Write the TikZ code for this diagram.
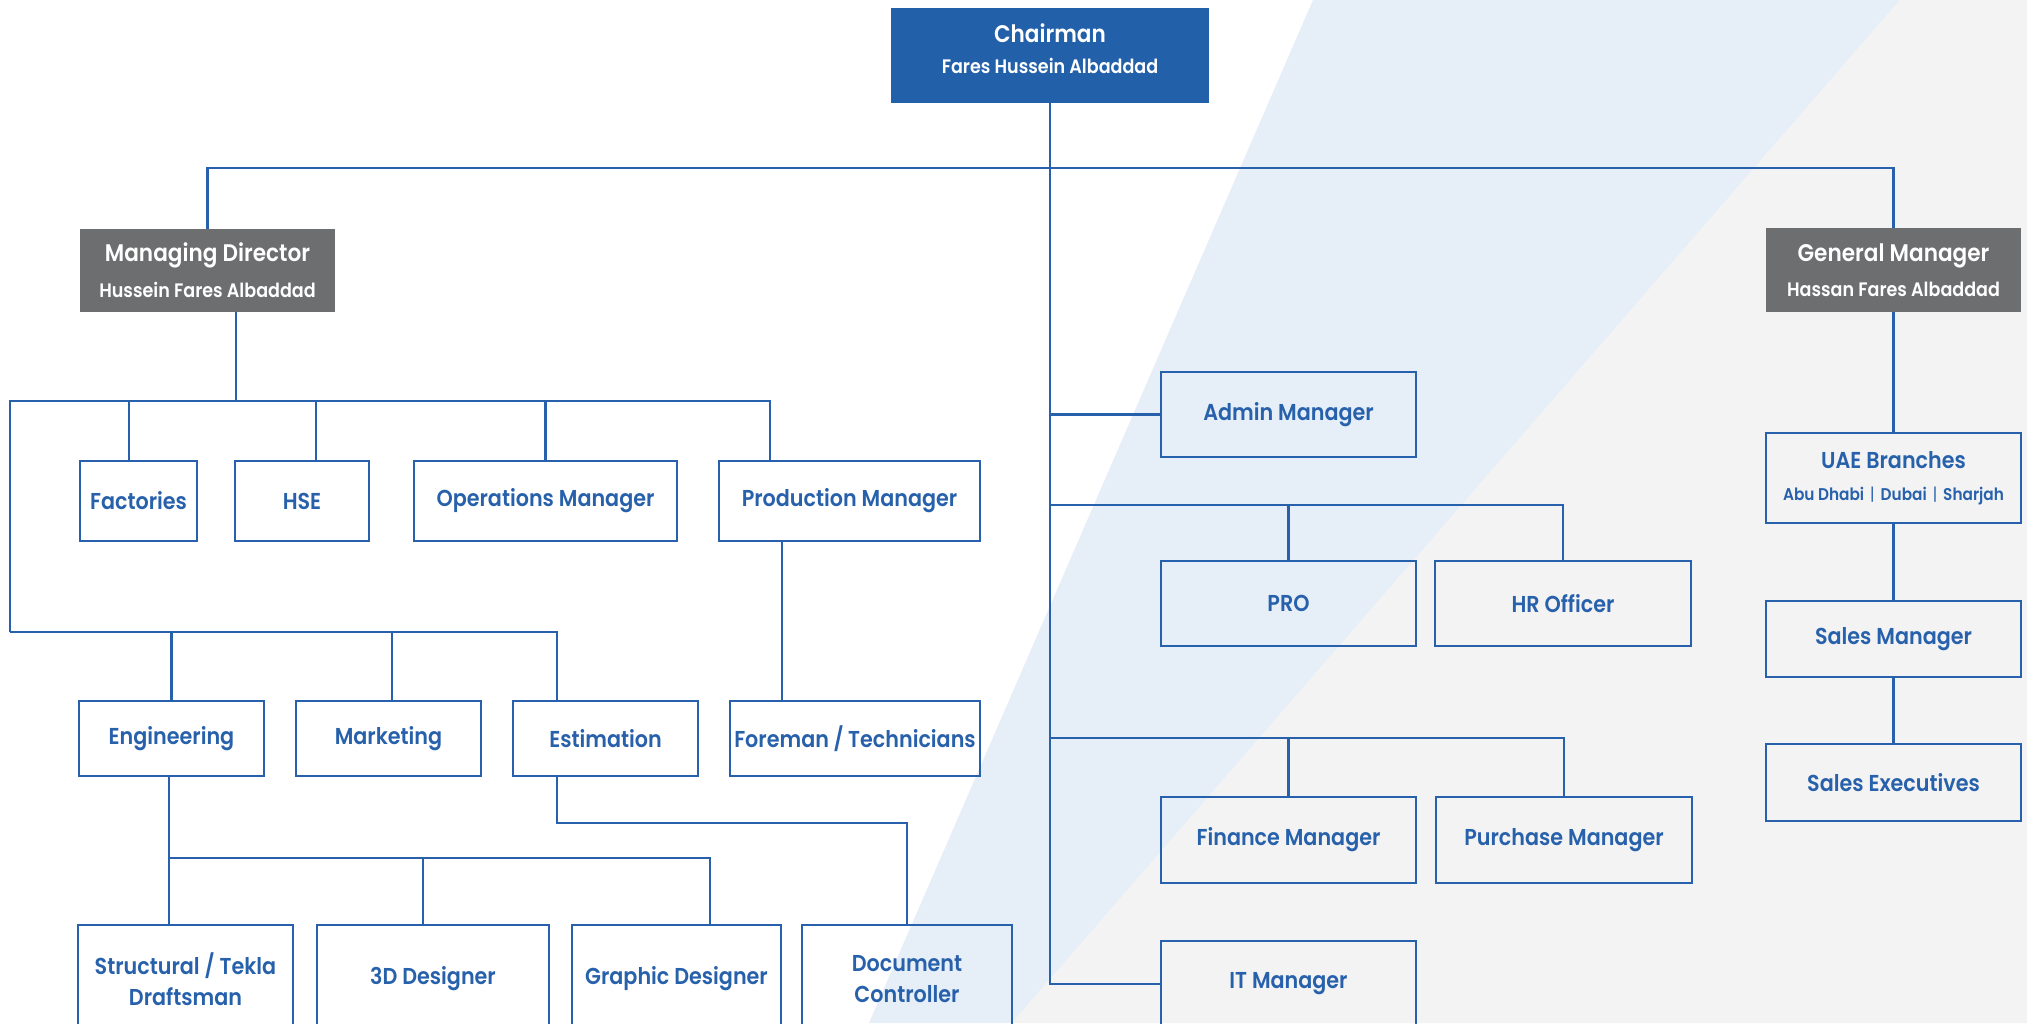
\documentclass[tikz,border=0pt]{standalone}
\usepackage{fontspec}
\setmainfont{Poppins}[FakeStretch=0.9, BoldFont={Poppins SemiBold}]
\definecolor{cblue}{RGB}{40,97,171}
\definecolor{cfill}{RGB}{35,96,170}
\definecolor{cgrey}{RGB}{109,110,112}
\definecolor{cband}{RGB}{230,238,247}
\definecolor{cbg}{RGB}{243,243,243}
\tikzset{
  lnk/.style={draw=cblue, line width=2.6pt},
  box/.style={draw=cblue, line width=2.6pt, fill=none, text=cblue, inner sep=0pt,
    font=\fontsize{23}{31}\selectfont\bfseries, align=center},
  dbox/.style={fill=cgrey, text=white, inner sep=0pt, align=center, font=\bfseries},
  bbox/.style={fill=cfill, text=white, inner sep=0pt, align=center, font=\bfseries},
}
\begin{document}
\begin{tikzpicture}[x=1pt,y=-1pt]
\useasboundingbox (0,0) rectangle (2027,1023);
\clip (0,0) rectangle (2027,1023);
% background
\fill[white] (0,0) rectangle (2027,1023);
\fill[cband] (1313,0) -- (1900,0) -- (1012,1023) -- (869,1023) -- cycle;
\fill[cbg] (1900,0) -- (2027,0) -- (2027,1023) -- (1012,1023) -- cycle;

% top level
\node[bbox, minimum width=318pt, minimum height=95pt] (chair) at (1050,55.5)
  {{\fontsize{24}{28}\selectfont Chairman}\\[15pt]{\fontsize{19.5}{22}\selectfont Fares Hussein Albaddad}\\[2pt]};
\node[dbox, minimum width=255pt, minimum height=83pt] (md) at (207.5,270.5)
  {{\fontsize{24}{28}\selectfont Managing Director}\\[13pt]{\fontsize{19.5}{22}\selectfont Hussein Fares Albaddad}};
\node[dbox, minimum width=255pt, minimum height=84pt] (gm) at (1893.5,270)
  {{\fontsize{24}{28}\selectfont General Manager}\\[13pt]{\fontsize{19.5}{22}\selectfont Hassan Fares Albaddad}};

% MD branch
\node[box, minimum width=117pt, minimum height=80pt] (fact) at (138.5,501) {Factories};
\node[box, minimum width=134pt, minimum height=80pt] (hse) at (302,501) {HSE};
\node[box, minimum width=263pt, minimum height=80pt] (ops) at (545.5,501) {Operations Manager};
\node[box, minimum width=261pt, minimum height=80pt] (prod) at (849.5,501) {Production Manager};
\node[box, minimum width=185pt, minimum height=75pt] (eng) at (171.5,738.5) {Engineering};
\node[box, minimum width=185pt, minimum height=75pt] (mkt) at (388.5,738.5) {Marketing};
\node[box, minimum width=185pt, minimum height=75pt] (est) at (605.5,738.5) {Estimation};
\node[box, minimum width=250pt, minimum height=75pt] (fore) at (855,738.5) {Foreman\hspace{0.2em}/\hspace{0.2em}Technicians};
\node[box, minimum width=215pt, minimum height=108pt] (str) at (185.5,979) {Structural / Tekla\\Draftsman};
\node[box, minimum width=232pt, minimum height=108pt] (d3) at (433,979) {3D Designer};
\node[box, minimum width=209pt, minimum height=108pt] (gra) at (676.5,979) {Graphic Designer};
\node[box, minimum width=210pt, minimum height=108pt] (doc) at (907,979) {Document\\Controller};

% central branch
\node[box, minimum width=255pt, minimum height=85pt] (admin) at (1288.5,414.5) {Admin Manager};
\node[box, minimum width=255pt, minimum height=85pt] (pro) at (1288.5,603.5) {PRO};
\node[box, minimum width=256pt, minimum height=85pt] (hr) at (1563,603.5) {HR Officer};
\node[box, minimum width=255pt, minimum height=86pt] (fin) at (1288.5,840) {Finance Manager};
\node[box, minimum width=256pt, minimum height=86pt] (pur) at (1564,840) {Purchase Manager};
\node[box, minimum width=255pt, minimum height=86pt] (it) at (1288.5,984) {IT Manager};

% GM branch
\node[box, minimum width=255pt, minimum height=90pt] (uae) at (1893.5,478)
  {UAE Branches\\[1pt]{\fontsize{17}{22}\selectfont Abu Dhabi\hspace{6pt}{\mdseries|}\hspace{6pt}Dubai\hspace{6pt}{\mdseries|}\hspace{6pt}Sharjah}};
\node[box, minimum width=255pt, minimum height=76pt] (sm) at (1893.5,639) {Sales Manager};
\node[box, minimum width=255pt, minimum height=77pt] (se) at (1893.5,782.5) {Sales Executives};

% coordinates
\coordinate (topbus) at (1050,168);
\coordinate (mdbus) at (236,401);
\coordinate (leftbus) at (10,632);
\coordinate (engbus) at (169,858);
\coordinate (estbus) at (557,823);
\coordinate (probus) at (1050,505);
\coordinate (finbus) at (1050,738);

% connectors
\draw[lnk] (chair.south) |- (it.west);
\draw[lnk] (md.north) |- (topbus) -| (gm.north);
\draw[lnk] (chair.south |- admin.west) -- (admin.west);
\draw[lnk] (probus) -| (hr.north);
\draw[lnk] (pro.north) -- (pro.north |- probus);
\draw[lnk] (finbus) -| (pur.north);
\draw[lnk] (fin.north) -- (fin.north |- finbus);
\draw[lnk] (gm.south) -- (uae.north);
\draw[lnk] (uae.south) -- (sm.north);
\draw[lnk] (sm.south) -- (se.north);

\draw[lnk] ([xshift=28.5pt]md.south) -- (mdbus);
\draw[lnk] (leftbus) -- (leftbus |- mdbus) -- ([xshift=-79.5pt]prod.north |- mdbus) -- ([xshift=-79.5pt]prod.north);
\draw[lnk] ([xshift=-9.5pt]fact.north) -- ([xshift=-9.5pt]fact.north |- mdbus);
\draw[lnk] ([xshift=14pt]hse.north) -- ([xshift=14pt]hse.north |- mdbus);
\draw[lnk] (ops.north) -- (ops.north |- mdbus);
\draw[lnk] (leftbus) -- ([xshift=-48.5pt]est.north |- leftbus) -- ([xshift=-48.5pt]est.north);
\draw[lnk] (eng.north) -- (eng.north |- leftbus);
\draw[lnk] ([xshift=3.5pt]mkt.north) -- ([xshift=3.5pt]mkt.north |- leftbus);
\draw[lnk] ([xshift=-67.5pt]prod.south) -- ([xshift=-67.5pt]prod.south |- fore.north);

\draw[lnk] ([xshift=-2.5pt]eng.south) -- (engbus) -- ([xshift=33.5pt]gra.north |- engbus) -- ([xshift=33.5pt]gra.north);
\draw[lnk] ([xshift=-16.5pt]str.north) -- ([xshift=-16.5pt]str.north |- engbus);
\draw[lnk] ([xshift=-10pt]d3.north) -- ([xshift=-10pt]d3.north |- engbus);
\draw[lnk] ([xshift=-48.5pt]est.south) -- (estbus) -| (doc.north);
\end{tikzpicture}
\end{document}
